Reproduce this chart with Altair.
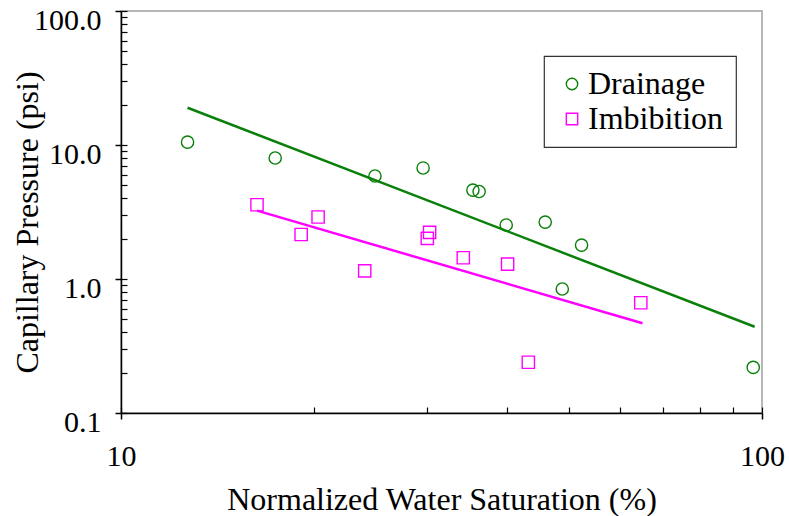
import altair as alt
import pandas as pd

# ---- data ----
series_names = ["Drainage", "Imbibition"]

drain_sat = [12.7, 17.4, 24.9, 29.6, 35.4, 36.2, 39.9, 45.9, 52.3, 48.8, 96.9]
drain_pc = [10.5, 8.0, 5.87, 6.74, 4.61, 4.5, 2.53, 2.66, 1.79, 0.842, 0.219]

imb_sat = [16.3, 19.1, 20.3, 24.0, 30.3, 30.05, 34.2, 40.1, 43.2, 64.7]
imb_pc = [3.58, 2.15, 2.9, 1.15, 2.23, 2.01, 1.44, 1.29, 0.239, 0.665]

drain_fit_sat = [12.7, 97.4]
drain_fit_pc = [18.97, 0.44]
imb_fit_sat = [16.3, 65.1]
imb_fit_pc = [3.24, 0.467]

x_major = [10, 100]
x_all_ticks = [10, 20, 30, 40, 50, 60, 70, 80, 90, 100]
y_major = [0.1, 1, 10, 100]
y_all_ticks = [0.1, 0.2, 0.3, 0.4, 0.5, 0.6, 0.7, 0.8, 0.9,
               1, 2, 3, 4, 5, 6, 7, 8, 9,
               10, 20, 30, 40, 50, 60, 70, 80, 90, 100]

# ---- tables ----
points = pd.DataFrame({
    "sat": drain_sat + imb_sat,
    "pc": drain_pc + imb_pc,
    "series": [series_names[0]] * len(drain_sat) + [series_names[1]] * len(imb_sat),
})
fit_d = pd.DataFrame({"sat": drain_fit_sat, "pc": drain_fit_pc})
fit_i = pd.DataFrame({"sat": imb_fit_sat, "pc": imb_fit_pc})

GREEN = "#0a800a"
MAGENTA = "#ff00ff"
FONT = "'Liberation Serif', 'Times New Roman', Times, 'DejaVu Serif', serif"

xscale = alt.Scale(type="log", domain=[10, 100], nice=False)
yscale = alt.Scale(type="log", domain=[0.1, 100], nice=False)

# invisible layer carrying the inward tick marks
ghost = alt.Chart(points).mark_point(opacity=0).encode(
    x=alt.X("sat:Q", scale=xscale, axis=alt.Axis(
        orient="bottom", values=x_all_ticks, labels=False, domain=False,
        grid=False, tickSize=6, offset=-6, tickColor="black", tickWidth=1.2,
        title=None)),
    y=alt.Y("pc:Q", scale=yscale, axis=alt.Axis(
        orient="left", values=y_all_ticks, labels=False, domain=False,
        grid=False, tickSize=6, offset=-6, tickColor="black", tickWidth=1.2,
        title=None)),
)

line_d = alt.Chart(fit_d).mark_line(color=GREEN, strokeWidth=2.5).encode(
    x=alt.X("sat:Q", scale=xscale, axis=None),
    y=alt.Y("pc:Q", scale=yscale, axis=None),
)
line_i = alt.Chart(fit_i).mark_line(color=MAGENTA, strokeWidth=2.5).encode(
    x=alt.X("sat:Q", scale=xscale, axis=None),
    y=alt.Y("pc:Q", scale=yscale, axis=None),
)

pts = alt.Chart(points).mark_point(filled=False, size=150, strokeWidth=1.4, opacity=1).encode(
    x=alt.X("sat:Q", scale=xscale, axis=alt.Axis(
        orient="bottom", values=x_major, format="d", grid=False,
        tickSize=6, tickColor="black", tickWidth=1.5,
        domainColor="black", domainWidth=1.5,
        labelFont=FONT, labelFontSize=30, labelColor="black",
        labelFlush=False, labelBaseline="alphabetic", labelPadding=46,
        title="Normalized Water Saturation (%)",
        titleFont=FONT, titleFontSize=32, titleFontWeight="normal",
        titleColor="black", titleBaseline="alphabetic", titleY=96)),
    y=alt.Y("pc:Q", scale=yscale, axis=alt.Axis(
        orient="left", values=y_major, format=".1f", grid=False,
        tickSize=6, tickColor="black", tickWidth=1.5,
        domainColor="black", domainWidth=1.5,
        labelFont=FONT, labelFontSize=30, labelColor="black",
        labelBaseline="alphabetic", labelOffset=18, labelPadding=14,
        title="Capillary Pressure (psi)",
        titleFont=FONT, titleFontSize=32, titleFontWeight="normal",
        titleColor="black", titleBaseline="alphabetic",
        titleX=-84, titleY=211, titleAngle=270)),
    color=alt.Color("series:N", scale=alt.Scale(domain=series_names, range=[GREEN, MAGENTA]),
                    legend=alt.Legend(title=None)),
    shape=alt.Shape("series:N", scale=alt.Scale(domain=series_names, range=["circle", "square"]),
                    legend=alt.Legend(title=None)),
)

chart = alt.layer(ghost, line_d, line_i, pts).resolve_axis(
    x="independent", y="independent"
).properties(
    width=641, height=402,
    autosize=alt.AutoSizeParams(type="none"),
    padding={"left": 121, "top": 11, "right": 27, "bottom": 103},
).configure_view(
    stroke="#a0a0a0", strokeWidth=1.5
).configure_legend(
    orient="none", legendX=423, legendY=45,
    strokeColor="#333333", strokeWidth=1.2, fillColor="white",
    padding=12, rowPadding=3, symbolOffset=0, labelOffset=0,
    labelFont=FONT, labelFontSize=32, labelColor="black",
    symbolSize=130, symbolStrokeWidth=1.4,
)

chart.save("out.html", embed_options={"renderer": "svg", "actions": False})
